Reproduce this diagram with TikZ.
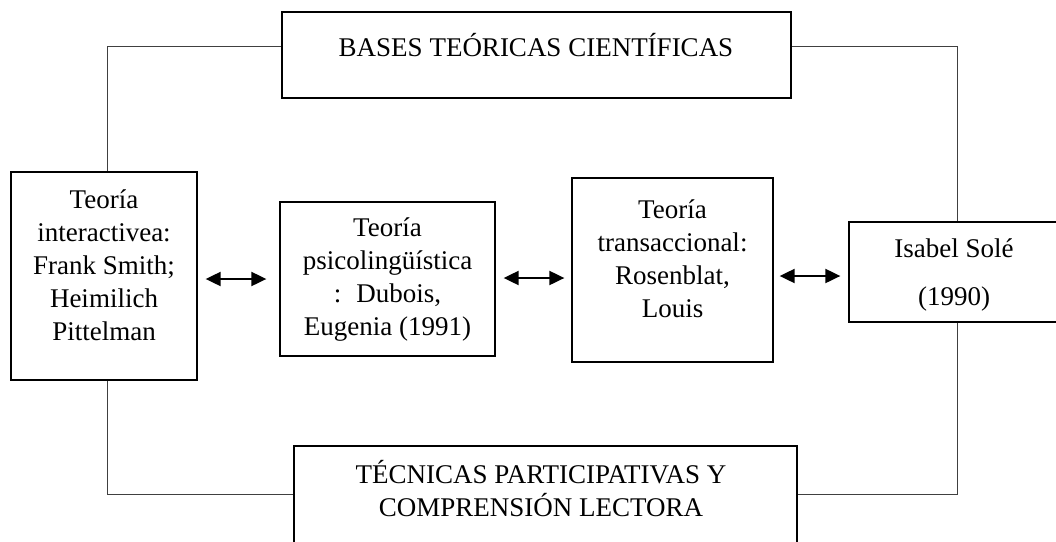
\documentclass[tikz,border=0pt]{standalone}
\usepackage{fontspec}
\setmainfont{Liberation Serif}
\usetikzlibrary{arrows.meta}
\tikzset{
  box/.style={draw=black, line width=1.3pt, rectangle, inner sep=0pt},
  txt/.style={inner sep=0pt, align=center, font=\fontsize{27pt}{33pt}\selectfont},
  conn/.style={draw=black!75, line width=0.9pt},
  dbl/.style={line width=2pt, {Triangle[length=15pt,width=14pt]}-{Triangle[length=15pt,width=14pt]}}
}
\begin{document}
\begin{tikzpicture}[x=1pt,y=-1pt]
\useasboundingbox (0,0) rectangle (1056,541);
% boxes
\node[box, minimum width=509pt, minimum height=86pt] (top) at (536.5,55) {};
\node[box, minimum width=186pt, minimum height=208pt] (b1) at (104,276) {};
\node[box, minimum width=215pt, minimum height=154pt] (b2) at (387.5,279) {};
\node[box, minimum width=201pt, minimum height=184pt] (b3) at (672.5,270) {};
\node[box, minimum width=217pt, minimum height=100pt] (b4) at (957.5,272) {};
\node[box, minimum width=503pt, minimum height=102pt] (bot) at (545.5,497) {};
% texts
\node[txt, anchor=base] (ttop) at (536,56) {BASES TEÓRICAS CIENTÍFICAS};
\node[txt, anchor=north] (t1) at (104,190) {Teoría\\interactivea:\\Frank Smith;\\Heimilich\\Pittelman};
\node[txt, anchor=north] (t2) at (387.5,217.5) {Teoría\\psicolingüística\\:\hspace{0.55em}Dubois,\\Eugenia (1991)};
\node[txt, anchor=north] (t3) at (672.5,199.5) {Teoría\\transaccional:\\Rosenblat,\\Louis};
\node[txt, anchor=north] (t4) at (954,238.5) {Isabel Solé\\[15pt](1990)};
\node[txt, anchor=north] (tbot) at (541,460) {TÉCNICAS PARTICIPATIVAS Y\\COMPRENSIÓN LECTORA};
% connectors
\draw[conn] ([yshift=8.5pt]top.west) -| ([xshift=3pt]b1.north);
\draw[conn] ([yshift=8.5pt]top.east) -| (b4.north);
\draw[conn] ([xshift=3pt]b1.south) |- ([yshift=3pt]bot.west);
\draw[conn] (b4.south) |- ([yshift=3pt]bot.east);
% arrows
\draw[dbl, shorten <=8pt, shorten >=13pt] (b1.east |- b2.center) -- (b2.west |- b2.center);
\draw[dbl, shorten <=8pt, shorten >=7pt] ([yshift=1pt]b2.east) -- ([yshift=1pt]b2.center -| b3.west);
\draw[dbl, shorten <=6pt, shorten >=8pt] (b3.east |- b1.east) -- (b4.west |- b1.east);
\end{tikzpicture}
\end{document}
